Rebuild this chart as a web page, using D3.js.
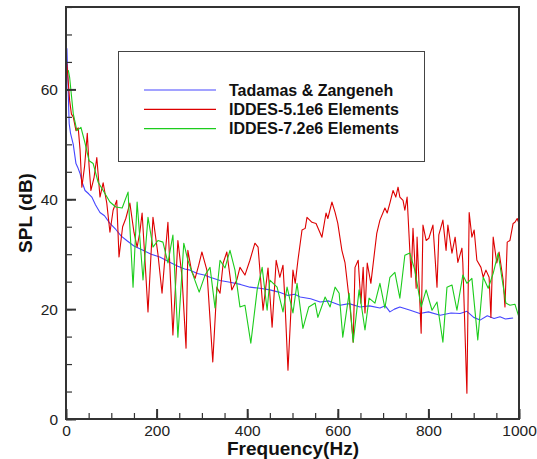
<!DOCTYPE html>
<html>
<head>
<meta charset="utf-8">
<script src="https://cdn.jsdelivr.net/npm/d3@7"></script>
<style>
  body { margin: 0; background: #fff; }
  svg { display: block; }
  .tick text { font-family: "Liberation Sans", Arial, sans-serif; font-size: 15.5px; fill: #222; }
</style>
</head>
<body>
<div id="chart"></div>
<script>
// Tadamas & Zangeneh (reference)
const blueF = [2,4,7,10,16,22,26,31,36,42,50,57,65,75,85,97,110,122,134,150,170,188,207,228,247,262,274,290,305,318,340,362,385,406,428,450,470,490,505,517,540,561,580,605,625,649,670,693,705,715,725,737,760,781,800,826,850,870,885,900,914,930,945,958,970,987];
const blueV = [67.5,62,53.8,52,50,46.5,45.8,44.7,43,41.6,41,40.4,39,37.6,37,35.6,34.5,33.3,32.5,31.5,30.7,30,29.5,28.6,27.8,27.3,27.1,26.5,26.2,25.8,25.2,24.9,24.5,24,23.8,23.5,23.1,22.5,22.7,22.2,21.9,21.3,21.5,20.7,21.0,20.4,20.6,20.2,20.6,19.5,20.0,20.4,19.8,19.2,19.5,18.9,19.3,19.2,19.6,18.5,18,18.8,18.3,18.6,18.2,18.4];

// IDDES-5.1e6 Elements
const redF = [2,8,12,16,22,27,31,35,41,47,51,55,62,68,75,82,90,97,104,112,117,125,132,141,150,157,163,168,175,181,192,203,212,220,225,236,247,256,265,269,277,285,293,300,311,324,333,340,347,355,366,377,384,395,406,417,424,435,446,455,464,472,479,483,490,501,506,512,521,528,532,543,552,565,574,578,587,594,600,609,616,627,634,638,645,651,656,660,665,673,686,693,704,709,715,722,728,733,737,744,748,753,762,766,773,775,784,788,795,801,810,819,823,832,839,843,852,859,865,874,876,885,890,896,901,907,916,921,927,934,938,943,951,956,965,969,974,980,987,991,996,1000];
const redV = [64.7,58,55.5,55,52.5,53,49,42.2,46,52,46,41.6,44,47.6,40.4,43,39.3,34,38,39.8,29.5,35,36.5,39.3,34,31.3,34,37.5,28,19.5,36.7,30,22.9,31,35.8,15.3,32.5,26,12.9,30.7,27,25.6,28,30.4,27.1,10.4,24,22.9,28.4,30.4,23.5,25.3,27.6,26.2,28.9,32,31.3,19.8,27.5,16.7,28.9,25.8,28,22,8.9,27.1,24.7,28.9,34.4,34.7,36.7,35.8,35.6,33.1,37.5,36.5,39.5,37.6,35.6,30.7,28.4,20.4,14,27.6,28.9,21.1,27.6,19.3,28.4,24.7,33.8,36.2,38.4,37.5,39.3,41.6,40.4,42.2,40.4,39.8,38,40.4,25.8,34.7,23.8,33.1,15.6,35.3,32.5,32.9,35.3,24,33.5,36.2,30.7,35.3,30.2,33.1,28.5,31.1,28.4,4.7,37.6,33.1,34.4,28.9,27.6,25.8,27.1,25.8,18.5,33.1,28.4,30.4,25.3,20.4,32.2,32.5,35.6,35.8,36.5,35.6];

// IDDES-7.2e6 Elements
const greenF = [5,8,16,24,33,42,51,60,71,82,97,110,124,137,148,157,170,181,192,203,214,225,236,247,260,269,283,294,307,318,329,340,351,362,373,384,395,408,422,433,444,450,466,479,488,501,510,523,536,550,556,572,583,594,603,611,625,634,647,660,669,682,693,704,715,726,737,748,759,770,784,795,808,819,832,841,852,863,876,885,896,909,921,932,943,954,962,971,980,991,1000];
const greenV = [63.5,62.2,55.6,52.5,53.1,50.2,47,46.5,43.1,41.6,39.5,38.6,38.4,41.3,24,39.5,25.3,36.7,31.3,32.5,32.2,28.4,33.5,14.9,32,28.9,25.6,23.1,26.2,27.6,20.2,28.9,27.5,30.7,27.1,20.4,20.7,13.8,23.5,27.6,19.8,25.3,24,19.5,24,19.3,24.7,16.5,20.4,21.1,18.5,22.2,20.4,24,22.9,14.9,22.9,14,23.5,16.2,22,21.1,24.7,20.2,25.8,26.7,22,29.8,30.2,27.1,20.4,23.5,19.8,21.3,14,24,24.4,19.8,26.2,24.7,25.6,14.4,25.8,23.8,26.5,30.2,25.8,21.1,20.7,20.9,18.5];

const seriesNames = ["Tadamas & Zangeneh", "IDDES-5.1e6 Elements", "IDDES-7.2e6 Elements"];
const seriesColors = ["#4646ff", "#dd0000", "#1ccc1c"];
const xMajor = [0, 200, 400, 600, 800, 1000];
const yMajor = [0, 20, 40, 60];

const w = 537, h = 459;
const padL = 66, padR = 519, padT = 7, padB = 419;

const svg = d3.select("#chart").append("svg")
  .attr("width", w)
  .attr("height", h);

const xScale = d3.scaleLinear().domain([0, 1000]).range([padL, padR]);
const yScale = d3.scaleLinear().domain([0, 75]).range([padB, padT]);

svg.append("clipPath").attr("id", "plot-area")
  .append("rect")
  .attr("x", padL).attr("y", padT)
  .attr("width", padR - padL).attr("height", padB - padT);

const line = d3.line().x(d => xScale(d[0])).y(d => yScale(d[1]));

const allSeries = [
  d3.zip(blueF, blueV),
  d3.zip(redF, redV),
  d3.zip(greenF, greenV)
];

allSeries.forEach((pts, i) => {
  svg.append("path")
    .datum(pts)
    .attr("clip-path", "url(#plot-area)")
    .attr("fill", "none")
    .attr("stroke", seriesColors[i])
    .attr("stroke-width", 1.1)
    .attr("stroke-linejoin", "round")
    .attr("d", line);
});

// minor ticks (inward)
const xMinor = d3.axisBottom(xScale).tickValues(d3.range(0, 1001, 50)).tickSize(-6).tickFormat("");
const yMinor = d3.axisLeft(yScale).tickValues(d3.range(0, 76, 5)).tickSize(-6).tickFormat("");
svg.append("g").attr("transform", "translate(0," + padB + ")").call(xMinor)
  .call(g => g.select(".domain").remove())
  .selectAll("line").attr("stroke", "#333").attr("stroke-width", 1.2);
svg.append("g").attr("transform", "translate(" + padL + ",0)").call(yMinor)
  .call(g => g.select(".domain").remove())
  .selectAll("line").attr("stroke", "#333").attr("stroke-width", 1.2);

// major ticks with labels
const xAxis = d3.axisBottom(xScale).tickValues(xMajor).tickSize(-10).tickPadding(6).tickFormat(d3.format("d"));
const yAxis = d3.axisLeft(yScale).tickValues(yMajor).tickSize(-10).tickPadding(8).tickFormat(d3.format("d"));

svg.append("g").attr("transform", "translate(0," + padB + ")").call(xAxis)
  .call(g => g.select(".domain").remove())
  .call(g => g.selectAll("line").attr("stroke", "#333").attr("stroke-width", 2))
  .call(g => g.selectAll("text").attr("y", 16.5).attr("dy", 0).attr("fill", "#222"));
svg.append("g").attr("transform", "translate(" + padL + ",0)").call(yAxis)
  .call(g => g.select(".domain").remove())
  .call(g => g.selectAll("line").attr("stroke", "#333").attr("stroke-width", 2))
  .call(g => g.selectAll("text").attr("x", -8).attr("dy", "0.36em").attr("fill", "#222"));

// frame
svg.append("rect")
  .attr("x", padL).attr("y", padT)
  .attr("width", padR - padL).attr("height", padB - padT)
  .attr("fill", "none")
  .attr("stroke", "#333")
  .attr("stroke-width", 2);

// legend
const legend = svg.append("g");
legend.append("rect")
  .attr("x", 118.5).attr("y", 51.5)
  .attr("width", 306).attr("height", 110)
  .attr("fill", "#fff")
  .attr("stroke", "#444")
  .attr("stroke-width", 1);

seriesNames.forEach((name, i) => {
  const y = 90 + i * 19.3;
  legend.append("line")
    .attr("x1", 144).attr("x2", 216)
    .attr("y1", y).attr("y2", y)
    .attr("stroke", seriesColors[i])
    .attr("stroke-width", 1.2);
  legend.append("text")
    .attr("x", 229).attr("y", y + 5.5)
    .attr("font-family", "Liberation Sans, Arial, sans-serif")
    .attr("font-weight", "bold")
    .attr("font-size", "16px")
    .attr("fill", "#111")
    .text(name);
});

// axis titles
svg.append("text")
  .attr("text-anchor", "middle")
  .attr("transform", "translate(" + 293 + "," + 454.5 + ")")
  .attr("font-family", "Liberation Sans, Arial, sans-serif")
  .attr("font-weight", "bold")
  .attr("font-size", "19px")
  .attr("fill", "#111")
  .text("Frequency(Hz)");

svg.append("text")
  .attr("text-anchor", "middle")
  .attr("transform", "translate(" + 32 + "," + 213 + ")rotate(-90)")
  .attr("font-family", "Liberation Sans, Arial, sans-serif")
  .attr("font-weight", "bold")
  .attr("font-size", "19px")
  .attr("fill", "#111")
  .text("SPL (dB)");
</script>
</body>
</html>
